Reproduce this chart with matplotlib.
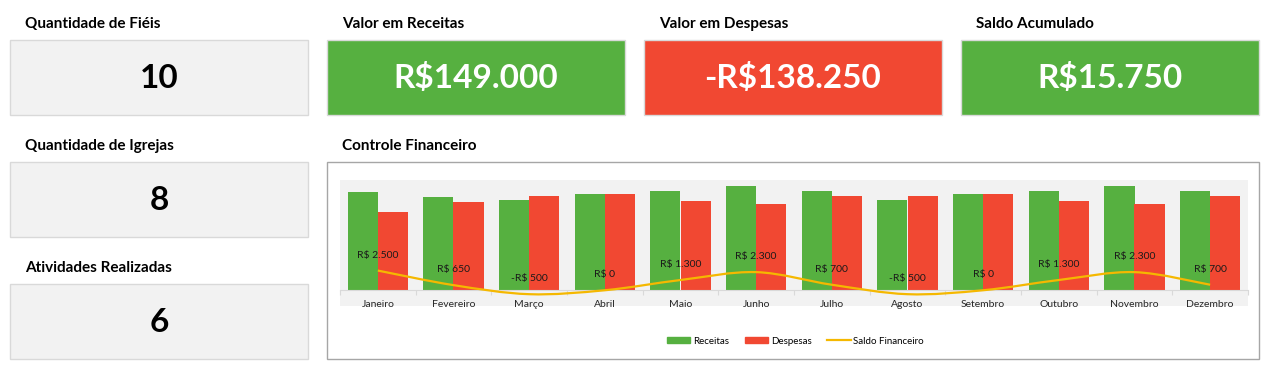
import matplotlib
matplotlib.use('Agg')
import matplotlib.pyplot as plt
from matplotlib.patches import Rectangle, PathPatch, Patch
from matplotlib.path import Path
from matplotlib.lines import Line2D
import numpy as np

plt.rcParams['font.family'] = ['Lato', 'DejaVu Sans']

# dados do controle financeiro
meses = ['Janeiro', 'Fevereiro', 'Março', 'Abril', 'Maio', 'Junho',
         'Julho', 'Agosto', 'Setembro', 'Outubro', 'Novembro', 'Dezembro']
receitas = [12500, 11900, 11500, 12200, 12650, 13300,
            12650, 11500, 12200, 12650, 13300, 12650]
despesas = [10000, 11250, 12000, 12200, 11350, 11000,
            11950, 12000, 12200, 11350, 11000, 11950]
saldo = [r - d for r, d in zip(receitas, despesas)]

# indicadores (cards)
card_titulos = ['Quantidade de Fiéis', 'Valor em Receitas', 'Valor em Despesas',
                'Saldo Acumulado', 'Quantidade de Igrejas', 'Atividades Realizadas']
card_valores = ['10', 'R$149.000', '-R$138.250', 'R$15.750', '8', '6']

VERDE = '#56B040'
VERMELHO = '#F14832'
CINZA = '#F2F2F2'
DOURADO = '#F5B800'

W, H = 1269, 368
fig = plt.figure(figsize=(W / 100, H / 100), dpi=100)
bg = fig.add_axes([0, 0, 1, 1])
bg.set_xlim(0, W)
bg.set_ylim(H, 0)
bg.axis('off')


def card(x, y, titulo, valor, cor, cor_txt):
    bg.text(x + 15, y - 16, titulo, fontsize=11, fontweight='bold',
            ha='left', va='center', color='black')
    bg.add_patch(Rectangle((x, y), 298, 75, facecolor=cor,
                           edgecolor='#D9D9D9', lw=1))
    bg.text(x + 149, y + 38, valor, fontsize=24, fontweight='bold',
            ha='center', va='center', color=cor_txt)


posicoes = [(10, 40), (327, 40), (644, 40), (961, 40), (10, 162), (10, 284)]
cores = [CINZA, VERDE, VERMELHO, VERDE, CINZA, CINZA]
cores_txt = ['black', 'white', 'white', 'white', 'black', 'black']
for (x, y), t, v, c, ct in zip(posicoes, card_titulos, card_valores, cores, cores_txt):
    card(x, y, t, v, c, ct)

# caixa do grafico
bg.text(342, 146, 'Controle Financeiro', fontsize=11, fontweight='bold',
        ha='left', va='center', color='black')
bg.add_patch(Rectangle((327, 162), 932, 197, facecolor='white',
                       edgecolor='#A6A6A6', lw=1))

ax = fig.add_axes([340 / W, (H - 306) / H, 908 / W, 126 / H])
ax.set_facecolor(CINZA)
x = np.arange(len(meses))
ax.bar(x - 0.2, receitas, width=0.4, color=VERDE, zorder=2)
ax.bar(x + 0.2, despesas, width=0.4, color=VERMELHO, zorder=2)

# linha suavizada (bezier a partir dos pontos)
pts = np.column_stack([x, saldo]).astype(float)
n = len(pts)
verts = [tuple(pts[0])]
codes = [Path.MOVETO]
for i in range(n - 1):
    p0 = pts[max(i - 1, 0)]
    p1 = pts[i]
    p2 = pts[i + 1]
    p3 = pts[min(i + 2, n - 1)]
    c1 = p1 + (p2 - p0) / 6
    c2 = p2 - (p3 - p1) / 6
    verts += [tuple(c1), tuple(c2), tuple(p2)]
    codes += [Path.CURVE4] * 3
ax.add_patch(PathPatch(Path(verts, codes), facecolor='none',
                       edgecolor=DOURADO, lw=1.6, zorder=3))

for i, v in enumerate(saldo):
    txt = ('-' if v < 0 else '') + 'R$ ' + f'{abs(v):,}'.replace(',', '.')
    ax.annotate(txt, (i, v), xytext=(0, 11), textcoords='offset points',
                ha='center', va='center', fontsize=7.5, color='#1a1a1a', zorder=4)
    ax.annotate(meses[i], (i, 0), xytext=(0, -10), textcoords='offset points',
                ha='center', va='center', fontsize=7.5, color='#262626')

ax.set_xlim(-0.5, len(meses) - 0.5)
ax.set_ylim(-2000, 14000)
for s in ['top', 'left', 'right']:
    ax.spines[s].set_visible(False)
ax.spines['bottom'].set_position(('data', 0))
ax.spines['bottom'].set_color('#D9D9D9')
ax.set_xticks(np.arange(-0.5, len(meses), 1))
ax.set_xticklabels([])
ax.tick_params(axis='x', length=3.6, color='#D9D9D9', direction='out')
ax.set_yticks([])

handles = [Patch(color=VERDE), Patch(color=VERMELHO),
           Line2D([0], [0], color=DOURADO, lw=1.6)]
fig.legend(handles, ['Receitas', 'Despesas', 'Saldo Financeiro'],
           loc='center', bbox_to_anchor=(795.5 / W, 1 - 341 / H), ncol=3,
           frameon=False, fontsize=7, handlelength=2.4, handleheight=0.6,
           handletextpad=0.3, columnspacing=1.6)

fig.savefig('out.png', dpi=100)
